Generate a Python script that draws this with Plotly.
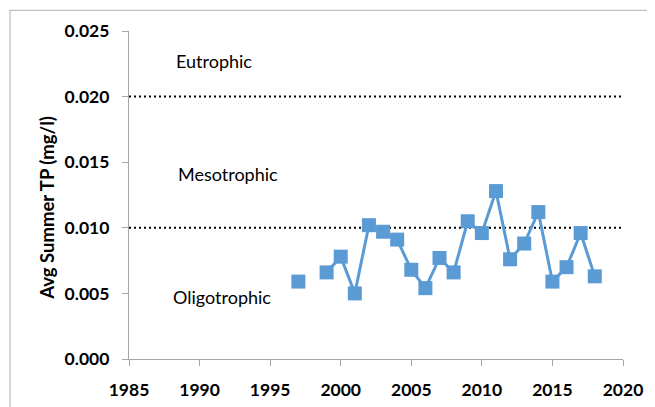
import plotly.graph_objects as go

years = [1997, 1998, 1999, 2000, 2001, 2002, 2003, 2004, 2005, 2006, 2007, 2008,
         2009, 2010, 2011, 2012, 2013, 2014, 2015, 2016, 2017, 2018]
tp = [0.0059, None, 0.0066, 0.0078, 0.0050, 0.0102, 0.0097, 0.0091, 0.0068, 0.0054,
      0.0077, 0.0066, 0.0105, 0.0096, 0.0128, 0.0076, 0.0088, 0.0112, 0.0059,
      0.0070, 0.0096, 0.0063]

thresholds = [0.010, 0.020]
zone_labels = ["Eutrophic", "Mesotrophic", "Oligotrophic"]
zone_x = [1991.0, 1992.0, 1991.6]
zone_y = [0.0227, 0.0141, 0.0047]

x_ticks = [1985, 1990, 1995, 2000, 2005, 2010, 2015, 2020]
y_ticks = [0.000, 0.005, 0.010, 0.015, 0.020, 0.025]
y_title = "Avg Summer TP (mg/l)"

blue = "#5B9BD5"
axis_gray = "#A6A6A6"
font_fam = "Lato, 'Open Sans', sans-serif"

fig = go.Figure()

for t in thresholds:
    fig.add_trace(go.Scatter(
        x=[x_ticks[0], x_ticks[-1]], y=[t, t], mode="lines",
        line=dict(color="black", width=2, dash="2px,3px"),
        hoverinfo="skip", showlegend=False))

fig.add_trace(go.Scatter(
    x=years, y=tp, mode="lines+markers", connectgaps=False,
    line=dict(color=blue, width=3),
    marker=dict(symbol="square", size=14, color=blue),
    showlegend=False))

for lab, xx, yy in zip(zone_labels, zone_x, zone_y):
    fig.add_annotation(x=xx, y=yy, text=lab, showarrow=False,
                       font=dict(family=font_fam, size=18, color="black"))

# y-axis title as a rotated annotation
fig.add_annotation(xref="paper", yref="paper", x=(47 - 129) / 494, y=0.5 - 13 / 333,
                   xanchor="center", yanchor="middle", textangle=-90,
                   text=y_title, showarrow=False,
                   font=dict(family=font_fam, size=18.5, color="black", weight="bold"))

# outer chart frame (plot area spans 494 x 333 px)
fig.add_shape(type="rect", xref="paper", yref="paper",
              x0=(10 - 129) / 494, x1=(653 - 129) / 494,
              y0=(359 - 420) / 333, y1=(359 - 5) / 333,
              line=dict(color="#BFBFBF", width=1.2), layer="below")

fig.update_xaxes(range=[1985, 2020], tickvals=x_ticks,
                 showgrid=False, zeroline=False, showline=True,
                 linecolor=axis_gray, linewidth=1.3,
                 ticks="outside", ticklen=6, tickcolor=axis_gray,
                 ticklabelstandoff=9,
                 tickfont=dict(family=font_fam, size=17.5, color="black", weight="bold"))
fig.update_yaxes(range=[0, 0.025], tickvals=y_ticks, tickformat=".3f",
                 showgrid=False, zeroline=False, showline=True,
                 linecolor=axis_gray, linewidth=1.3,
                 ticks="outside", ticklen=6, tickcolor=axis_gray,
                 ticklabelstandoff=9,
                 tickfont=dict(family=font_fam, size=17.5, color="black", weight="bold"))

# page body has an 8px margin, so shift plot area accordingly
fig.update_layout(width=655, height=407,
                  margin=dict(l=121, r=40, t=18, b=56),
                  plot_bgcolor="white", paper_bgcolor="white")

fig.write_html("out.html")
